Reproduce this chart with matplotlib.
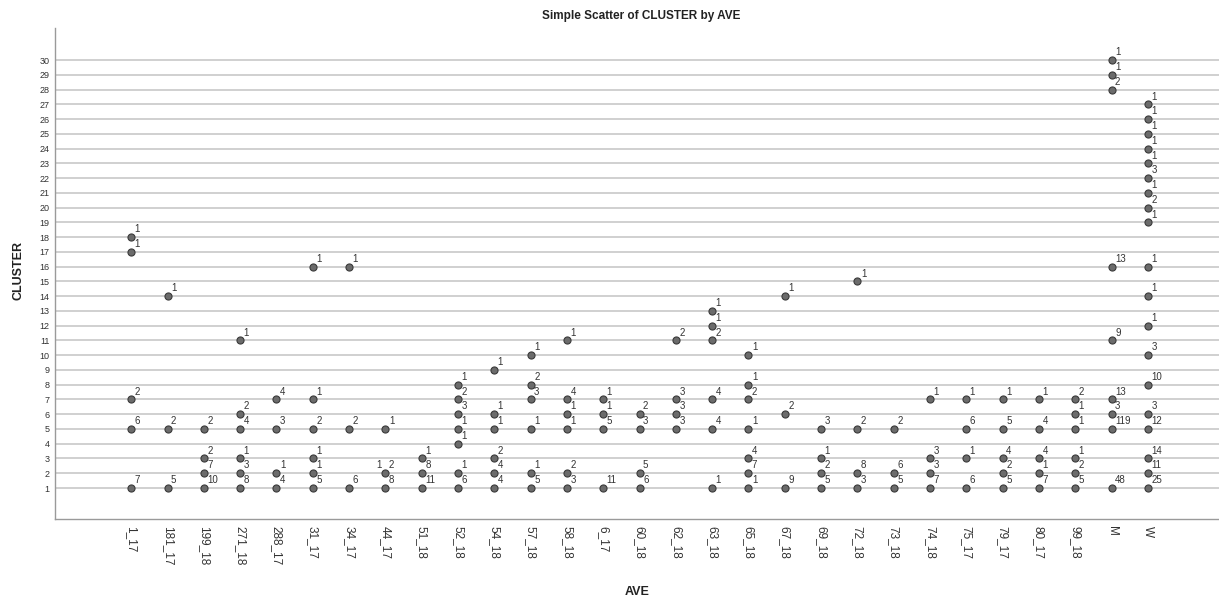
import matplotlib
matplotlib.use("Agg")
import matplotlib.pyplot as plt

plt.rcParams['font.family'] = ['Liberation Sans', 'DejaVu Sans']

categories = ["1_17", "181_17", "199_18", "271_18", "288_17", "31_17", "34_17", "44_17",
              "51_18", "52_18", "54_18", "57_18", "58_18", "6_17", "60_18", "62_18",
              "63_18", "65_18", "67_18", "69_18", "72_18", "73_18", "74_18", "75_17",
              "79_17", "80_17", "99_18", "M", "W"]

# cluster -> count label, per category
c_1_17 = {18: 1, 17: 1, 7: 2, 5: 6, 1: 7}
c_181_17 = {14: 1, 5: 2, 1: 5}
c_199_18 = {5: 2, 3: 2, 2: 7, 1: 10}
c_271_18 = {11: 1, 6: 2, 5: 4, 3: 1, 2: 3, 1: 8}
c_288_17 = {7: 4, 5: 3, 2: 1, 1: 4}
c_31_17 = {16: 1, 7: 1, 5: 2, 3: 1, 2: 1, 1: 5}
c_34_17 = {16: 1, 5: 2, 1: 6}
c_44_17 = {5: 1, 2: 2, 1: 8}
c_51_18 = {3: 1, 2: 8, 1: 11}
c_52_18 = {8: 1, 7: 2, 6: 3, 5: 1, 4: 1, 2: 1, 1: 6}
c_54_18 = {9: 1, 6: 1, 5: 1, 3: 2, 2: 4, 1: 4}
c_57_18 = {10: 1, 8: 2, 7: 3, 5: 1, 2: 1, 1: 5}
c_58_18 = {11: 1, 7: 4, 6: 1, 5: 1, 2: 2, 1: 3}
c_6_17 = {7: 1, 6: 1, 5: 5, 1: 11}
c_60_18 = {6: 2, 5: 3, 2: 5, 1: 6}
c_62_18 = {11: 2, 7: 3, 6: 3, 5: 3}
c_63_18 = {13: 1, 12: 1, 11: 2, 7: 4, 5: 4, 1: 1}
c_65_18 = {10: 1, 8: 1, 7: 2, 5: 1, 3: 4, 2: 7, 1: 1}
c_67_18 = {14: 1, 6: 2, 1: 9}
c_69_18 = {5: 3, 3: 1, 2: 2, 1: 5}
c_72_18 = {15: 1, 5: 2, 2: 8, 1: 3}
c_73_18 = {5: 2, 2: 6, 1: 5}
c_74_18 = {7: 1, 3: 3, 2: 3, 1: 7}
c_75_17 = {7: 1, 5: 6, 3: 1, 1: 6}
c_79_17 = {7: 1, 5: 5, 3: 4, 2: 2, 1: 5}
c_80_17 = {7: 1, 5: 4, 3: 4, 2: 1, 1: 7}
c_99_18 = {7: 2, 6: 1, 5: 1, 3: 1, 2: 2, 1: 5}
c_M = {30: 1, 29: 1, 28: 2, 16: 13, 11: 9, 7: 13, 6: 3, 5: 119, 1: 48}
c_W = {27: 1, 26: 1, 25: 1, 24: 1, 23: 1, 22: 3, 21: 1, 20: 2, 19: 1, 16: 1, 14: 1,
       12: 1, 10: 3, 8: 10, 6: 3, 5: 12, 3: 14, 2: 11, 1: 25}

series = [c_1_17, c_181_17, c_199_18, c_271_18, c_288_17, c_31_17, c_34_17, c_44_17,
          c_51_18, c_52_18, c_54_18, c_57_18, c_58_18, c_6_17, c_60_18, c_62_18,
          c_63_18, c_65_18, c_67_18, c_69_18, c_72_18, c_73_18, c_74_18, c_75_17,
          c_79_17, c_80_17, c_99_18, c_M, c_W]

# an extra overlapping label drawn to the left of a point
extra_left_labels = [("44_17", 2, "1")]

y_ticks = list(range(1, 31))

fig = plt.figure(figsize=(12.19, 6.03), dpi=100)
ax = fig.add_axes([55 / 1219, 1 - 519 / 603, (1219 - 55) / 1219, (519 - 28) / 603])

for yv in y_ticks:
    ax.axhline(yv, color="#c8c8c8", lw=1.2, zorder=1)

xs, ys, labs = [], [], []
for i, d in enumerate(series):
    for cl, cnt in d.items():
        xs.append(i)
        ys.append(cl)
        labs.append(cnt)

ax.scatter(xs, ys, s=26, facecolor="#6b6b6b", edgecolor="#3a3a3a", linewidths=0.8, zorder=3)
for x, y, t in zip(xs, ys, labs):
    ax.annotate(str(t), (x, y), xytext=(2.5, 2.0), textcoords="offset points",
                ha="left", va="bottom", fontsize=7, color="#333333", zorder=4)
for cat, cl, t in extra_left_labels:
    ax.annotate(t, (categories.index(cat), cl), xytext=(-2.5, 2.0), textcoords="offset points",
                ha="right", va="bottom", fontsize=7, color="#333333", zorder=4)

ax.set_xlim(-2.1, 29.96)
ax.set_ylim(-1.1, 32.17)
ax.set_xticks(range(len(categories)))
ax.set_xticklabels(categories, rotation=270, fontsize=8.5, color="#333333")
ax.set_yticks(y_ticks)
ax.set_yticklabels([str(v) for v in y_ticks], fontsize=6.5, color="#333333")
ax.tick_params(axis="both", length=0)
ax.tick_params(axis="x", pad=5)
ax.tick_params(axis="y", pad=4)

for s in ["top", "right"]:
    ax.spines[s].set_visible(False)
for s in ["left", "bottom"]:
    ax.spines[s].set_color("#9a9a9a")
    ax.spines[s].set_linewidth(1.0)

fig.text(641 / 1219, 1 - 16 / 603, "Simple Scatter of CLUSTER by AVE", ha="center", va="center",
         fontsize=8.5, fontweight="bold", color="#222222")
fig.text(18 / 1219, 1 - 270 / 603, "CLUSTER", rotation=90, ha="center", va="center",
         fontsize=9, fontweight="bold", color="#222222")
fig.text(637 / 1219, 1 - 592 / 603, "AVE", ha="center", va="center",
         fontsize=9, fontweight="bold", color="#222222")

fig.savefig("out.png", dpi=100)
